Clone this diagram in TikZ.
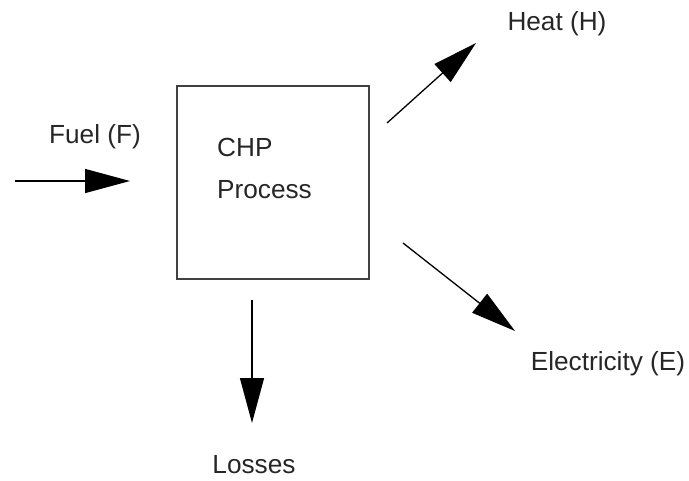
\documentclass[tikz,border=0pt]{standalone}
\usepackage{fontspec}
\setmainfont{Liberation Sans}
\usetikzlibrary{arrows.meta}
\begin{document}
\begin{tikzpicture}[x=1pt,y=-1pt,
  lbl/.style={inner sep=0pt, text=black!85, font=\fontsize{26.2}{40}\selectfont},
  flow/.style={line width=1.3pt, -{Triangle[length=45pt,width=24pt]}},
  procbox/.style={draw=black!75, line width=1.4pt, minimum width=192pt, minimum height=193pt, inner sep=0pt}]
\useasboundingbox (0,0) rectangle (689,480);
\node[procbox] (box) at (273,182.5) {};
\node[lbl, anchor=base west] (chp) at (217,156) {CHP};
\node[lbl, anchor=base west] (proc) at (217,198) {Process};
\node[lbl, anchor=base] (fuel) at (95,143) {Fuel (F)};
\node[lbl, anchor=base] (heat) at (557,30) {Heat (H)};
\node[lbl, anchor=base] (elec) at (608,370) {Electricity (E)};
\node[lbl, anchor=base] (loss) at (254,473) {Losses};
\coordinate (fuelA) at (15,181);
\coordinate (fuelB) at (130,181);
\coordinate (heatA) at (387,123);
\coordinate (heatB) at (476,43);
\coordinate (elecA) at (403,243);
\coordinate (elecB) at (515,331);
\coordinate (lossA) at (252,300);
\coordinate (lossB) at (252,423);
\draw[flow] (fuelA) -- (fuelB);
\draw[flow] (heatA) -- (heatB);
\draw[flow] (elecA) -- (elecB);
\draw[flow] (lossA) -- (lossB);
\end{tikzpicture}
\end{document}
